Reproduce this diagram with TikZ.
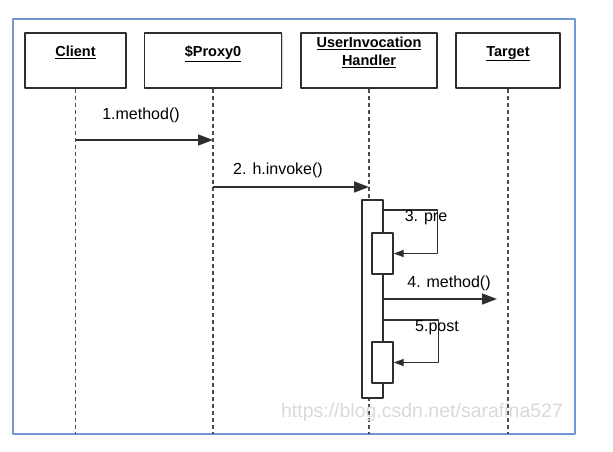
\documentclass[tikz,border=0pt]{standalone}
\usepackage{fontspec}
\setmainfont{Liberation Sans}
\usetikzlibrary{arrows.meta,shadows}
\definecolor{frameblue}{HTML}{7196D2}
\definecolor{linegray}{HTML}{2E2E2E}
\begin{document}
\begin{tikzpicture}[x=1pt,y=-1pt,line join=round,
    actor/.style={draw=linegray,line width=1.4pt,fill=white,minimum height=55pt,
      drop shadow={opacity=.35,shadow xshift=1pt,shadow yshift=-1.2pt}},
    actorname/.style={font=\fontsize{14.5}{17.5}\selectfont\bfseries,align=center,anchor=north,inner sep=0pt},
    lifeline/.style={draw=linegray!85,line width=1.3pt,dash pattern=on 4pt off 3pt},
    bar/.style={draw=linegray,line width=1.4pt,fill=white,inner sep=0pt,minimum width=21pt},
    msg/.style={draw=linegray,line width=1.4pt,-{Triangle[length=15pt,width=11pt]}},
    selfmsg/.style={draw=linegray,line width=1.4pt,-{Triangle[length=10pt,width=7pt]}},
    lbl/.style={font=\fontsize{16}{18}\selectfont,inner sep=0pt}]
\useasboundingbox (0,0) rectangle (613,452);
\draw[frameblue,line width=2pt] (13,19) rectangle (575,434);
% actors
\foreach \n/\x/\w in {client/75.5/101,proxy/213/137,handler/369/136,target/508/104}
  \node[actor,minimum width=\w] (\n) at (\x,60.5) {};
\node[actorname] (clientname) at (75.5,46) {\underline{Client}};
\node[actorname] (proxyname) at (213,46) {\underline{\$Proxy0}};
\node[actorname] (handlername) at (369,37) {\underline{UserInvocation}\\\underline{Handler}};
\node[actorname] (targetname) at (508,46) {\underline{Target}};
% lifelines
\foreach \n in {client,proxy,handler,target}{
  \coordinate (\n-end) at (\n |- 0,434);
  \draw[lifeline] (\n.south) -- (\n-end);
}
% activations
\node[bar,minimum height=198pt] (act) at (372.5,299) {};
\node[bar,minimum height=41pt] (pre) at (382.5,253.5) {};
\node[bar,minimum height=41pt] (post) at (382.5,362.5) {};
% messages
\draw[msg] (client |- 0,140) -- (proxy |- 0,140);
\node[lbl] (m1) at (141,115) {1.method()};
\draw[msg] (proxy |- 0,187) -- (handler |- 0,187);
\node[lbl] (m2) at (278,170) {2. h.invoke()};
\draw[selfmsg] (act.east |- 0,210) -- ++(54,0) |- (pre.east);
\node[lbl] (m3) at (426,218) {3. pre};
\draw[msg,shorten >=11pt] (act.east |- 0,299) -- (target |- 0,299);
\node[lbl] (m4) at (449,283) {4. method()};
\draw[selfmsg] (act.east |- 0,320) -- ++(55,0) |- (post.east);
\node[lbl] (m5) at (437,328) {5.post};
% watermark
\node[font=\fontsize{19.5}{22}\selectfont,text=black!15,inner sep=0pt] (mark) at (422,412) {https://blog.csdn.net/sarafina527};
\end{tikzpicture}
\end{document}
